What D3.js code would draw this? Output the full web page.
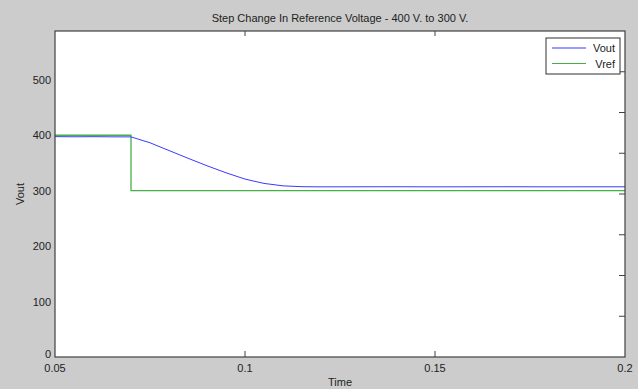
<!DOCTYPE html>
<html>
<head>
<meta charset="utf-8">
<script src="https://cdn.jsdelivr.net/npm/d3@7"></script>
<style>
  html, body { margin: 0; padding: 0; background: #cccccc; }
  svg { display: block; font-family: "Liberation Sans", Arial, sans-serif; }
</style>
</head>
<body>
<svg id="chart" width="638" height="389"></svg>
<script>
// ---- data ----
const title = "Step Change In Reference Voltage - 400 V. to 300 V.";
const xTicks = [0.05, 0.1, 0.15, 0.2];
const xTickLabels = ["0.05", "0.1", "0.15", "0.2"];
const yTicks = [0, 100, 200, 300, 400, 500];
const rightTicks = [1, 2, 3, 4, 5, 6, 7];   // unlabeled ticks of the overlaid axis

// Vref: step from 400 to 300 at t = 0.07
const vrefT = [0.05, 0.07, 0.07, 0.2];
const vrefV = [400, 400, 300, 300];

// Vout: slow fall to ~307
const voutT = [0.05, 0.055, 0.06, 0.065, 0.07, 0.075, 0.08, 0.085, 0.09, 0.095,
               0.10, 0.105, 0.11, 0.115, 0.12, 0.13, 0.14, 0.15, 0.16, 0.17, 0.18, 0.19, 0.2];
const voutV = [397.5, 397.2, 397.4, 397.1, 397.0, 386.4, 372.4, 358.5, 344.9, 332.3,
               320.9, 313.1, 308.7, 307.2, 306.9, 307.0, 307.1, 306.9, 307.0, 307.1, 306.9, 307.0, 307.0];

const series = [
  {name: "Vout", color: "#3a3aff", width: 1, pts: voutT.map((t, i) => [t, voutV[i]])},
  {name: "Vref", color: "#45b045", width: 1.3, pts: vrefT.map((t, i) => [t, vrefV[i]])}
];

// ---- layout ----
const svg = d3.select("#chart");
const L = 55, R = 625, T = 31, B = 357;

const x = d3.scaleLinear().domain([0.05, 0.2]).range([L, R]);
const y = d3.scaleLinear().domain([0, 588]).range([B, T]);
const yR = d3.scaleLinear().domain([0, 8]).range([B, T]);

svg.append("rect").attr("x", L).attr("y", T).attr("width", R - L).attr("height", B - T)
   .attr("fill", "#ffffff");

// lines
const line = d3.line().x(d => x(d[0])).y(d => y(d[1]));
const lines = svg.append("g");
series.slice().reverse().forEach(s => {
  lines.append("path").datum(s.pts)
    .attr("d", line)
    .attr("fill", "none")
    .attr("stroke", s.color)
    .attr("stroke-width", s.width);
});

// frame
svg.append("rect").attr("x", L).attr("y", T).attr("width", R - L).attr("height", B - T)
   .attr("fill", "none").attr("stroke", "#404040").attr("stroke-width", 1.2);

// x ticks (inward, bottom and top)
const inner = xTicks.filter(d => d > 0.05 && d < 0.2);
svg.append("g").selectAll("line.xb").data(inner).join("line")
  .attr("x1", d => x(d)).attr("x2", d => x(d))
  .attr("y1", B).attr("y2", B - 6)
  .attr("stroke", "#404040");
svg.append("g").selectAll("line.xt").data(inner).join("line")
  .attr("x1", d => x(d)).attr("x2", d => x(d))
  .attr("y1", T).attr("y2", T + 5)
  .attr("stroke", "#404040");

// right ticks
svg.append("g").selectAll("line").data(rightTicks).join("line")
  .attr("x1", R).attr("x2", R - 6)
  .attr("y1", d => yR(d)).attr("y2", d => yR(d))
  .attr("stroke", "#404040");

// tick labels
svg.append("g").selectAll("text").data(xTicks).join("text")
  .attr("x", (d, i) => x(d)).attr("y", 372)
  .attr("text-anchor", "middle")
  .attr("font-size", 11).attr("fill", "#222")
  .text((d, i) => xTickLabels[i]);

svg.append("g").selectAll("text").data(yTicks).join("text")
  .attr("x", 51).attr("y", d => d == 0 ? y(d) + 1 : y(d) + 4)
  .attr("text-anchor", "end")
  .attr("font-size", 11).attr("fill", "#222")
  .text(d => d);

// titles
svg.append("text").attr("x", (L + R) / 2).attr("y", 22)
  .attr("text-anchor", "middle").attr("font-size", 11).attr("fill", "#222")
  .text(title);
svg.append("text").attr("x", (L + R) / 2).attr("y", 386)
  .attr("text-anchor", "middle").attr("font-size", 11).attr("fill", "#222")
  .text("Time");
svg.append("text")
  .attr("transform", `translate(24,${(T + B) / 2}) rotate(-90)`)
  .attr("text-anchor", "middle").attr("font-size", 11).attr("fill", "#222")
  .text("Vout");

// legend
const lg = svg.append("g").attr("transform", "translate(546,38)");
lg.append("rect").attr("width", 74).attr("height", 36)
  .attr("fill", "#ffffff").attr("stroke", "#303030").attr("stroke-width", 1);
series.forEach((s, i) => {
  const yy = 10 + i * 15.5;
  lg.append("line").attr("x1", 6).attr("x2", 40).attr("y1", yy).attr("y2", yy)
    .attr("stroke", s.color).attr("stroke-width", 1.2);
  lg.append("text").attr("x", 69).attr("y", yy + 4)
    .attr("text-anchor", "end").attr("font-size", 11).attr("fill", "#222")
    .text(s.name);
});
</script>
</body>
</html>
